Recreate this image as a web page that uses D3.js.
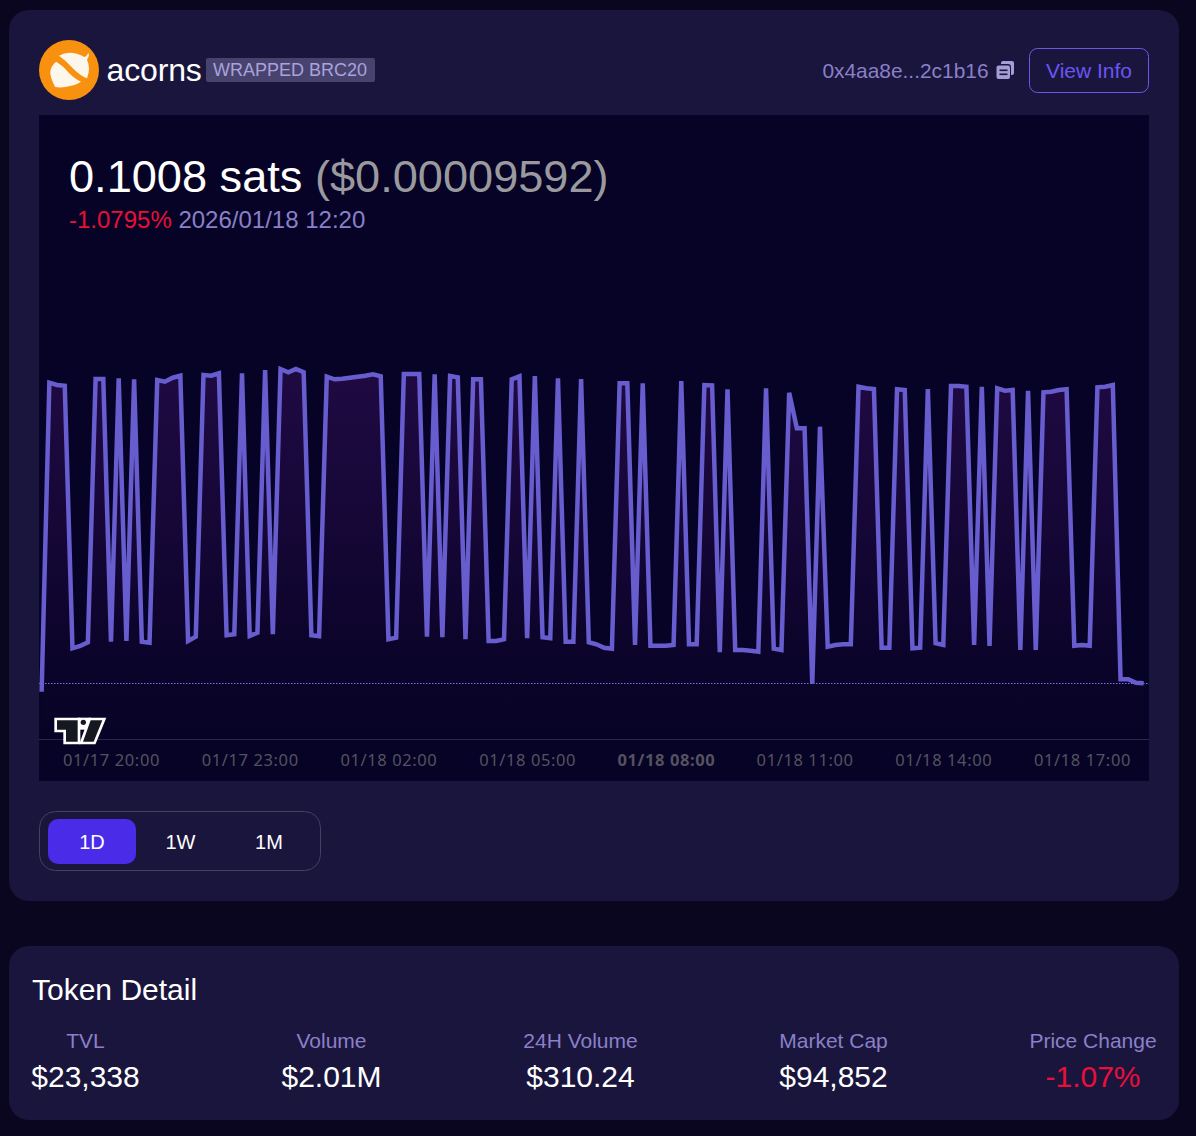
<!DOCTYPE html>
<html>
<head>
<meta charset="utf-8">
<script src="https://cdn.jsdelivr.net/npm/d3@7"></script>
<style>
html,body{margin:0;padding:0;background:#0a0620;overflow:hidden}
svg{display:block}
text{font-family:"Liberation Sans",Arial,sans-serif}
</style>
</head>
<body>
<svg id="c" width="1196" height="1136"></svg>
<script>
const prices = [
.09993,.13083,.13060,.13053,.10427,.10450,.10487,.13120,.13120,.10493,.13127,.10500,
.13117,.10493,.10483,.13110,.13093,.13133,.13153,.10500,.10543,.13160,.13153,.13177,
.10557,.10567,.13177,.10550,.10583,.13210,.10567,.13220,.13187,.13220,.13187,.10557,
.10547,.13143,.13117,.13123,.13133,.13143,.13153,.13167,.13147,.10517,.10533,.13170,
.13170,.13170,.10543,.13167,.10537,.13150,.13137,.10517,.13117,.13117,.10500,.10500,
.10517,.13117,.13147,.10527,.13150,.10537,.10527,.13127,.10493,.10493,.13120,.10487,
.10467,.10433,.10423,.13077,.13077,.10460,.13077,.10453,.10453,.10453,.10460,.13100,
.10467,.10467,.13060,.13057,.10387,.13017,.10410,.10410,.10403,.10393,.13027,.10423,
.10410,.12983,.12627,.12627,.10070,.12643,.10443,.10460,.10467,.10467,.13043,.13027,
.13020,.10433,.10433,.13017,.13010,.10427,.10433,.13020,.10477,.10460,.13050,.13050,
.13043,.10460,.13043,.10450,.13027,.13003,.13010,.10410,.13003,.10410,.12987,.12993,
.13010,.13017,.10453,.10460,.10453,.13037,.13043,.13060,.10117,.10117,.10083,.10077];
const startTime = Date.UTC(2026,0,17,18,30);
const stepMinutes = 10;
const currentPrice = 0.1008;
const tickHours = [20,23,26,29,32,35,38,41];
const rangeButtons = ["1D","1W","1M"];
const detailLabels = ["TVL","Volume","24H Volume","Market Cap","Price Change"];
const detailValues = ["$23,338","$2.01M","$310.24","$94,852","-1.07%"];

const svg = d3.select("#c");
const defs = svg.append("defs");
const grad = defs.append("linearGradient").attr("id","fill").attr("x1",0).attr("x2",0).attr("y1",0).attr("y2",1);
grad.append("stop").attr("offset",0).attr("stop-color","#1f0a42");
grad.append("stop").attr("offset",.4).attr("stop-color","#160737");
grad.append("stop").attr("offset",.75).attr("stop-color","#0c042b");
grad.append("stop").attr("offset",1).attr("stop-color","#070326");
defs.append("clipPath").attr("id","plot").append("rect").attr("x",39).attr("y",115).attr("width",1110).attr("height",624);

function txt(g,x,y,s,size,fill,anchor){
  return g.append("text").attr("x",x).attr("y",y).attr("font-size",size).attr("fill",fill)
    .attr("text-anchor",anchor||"start").text(s);
}
function card(x,y,w,h,r,fill,stroke){
  return svg.append("rect").attr("x",x).attr("y",y).attr("width",w).attr("height",h).attr("rx",r)
    .attr("fill",fill).attr("stroke",stroke||"none");
}

// cards
card(9,10,1170,891,20,"#1a153d");
card(9,946,1170,174,20,"#1a153d");
card(39,115,1110,666,0,"#070326");

// header
const head = svg.append("g");
head.append("circle").attr("cx",69).attr("cy",70).attr("r",30).attr("fill","#f8910f");
const acorn = head.append("g").attr("transform","translate(35,35) scale(0.3333)").attr("fill","#fdf6ea");
acorn.append("path").attr("d","M72,62 Q95,48 125,56 Q140,60 148,66 Q156,63 160,54 Q165,60 156,74 Q168,100 156,130 Q135,122 112,98 Q92,76 72,62 Z");
acorn.append("path").attr("d","M64,80 Q84,92 102,114 Q122,134 138,140 Q125,150 95,155 Q72,160 60,155 Q44,125 46,108 Q50,90 64,80 Z");
txt(head,106.5,80.5,"acorns",32,"#ffffff").attr("letter-spacing",-0.15);
head.append("rect").attr("x",206).attr("y",58).attr("width",169).attr("height",24).attr("rx",2).attr("fill","#48426f");
txt(head,213,76,"WRAPPED BRC20",18,"#a9a3dc");
txt(head,988.5,78,"0x4aa8e...2c1b16",20.9,"#8a80c8","end");
const copy = head.append("g").attr("fill","#a59dd3");
copy.append("path").attr("d","M1001,61 h11 a2,2 0 0 1 2,2 v10 a2,2 0 0 1 -2,2 h-1 v-8 a3,3 0 0 0 -3,-3 h-7 v-1 a2,2 0 0 1 2,-2 z");
copy.append("rect").attr("x",996.5).attr("y",65.5).attr("width",13.5).attr("height",13.5).attr("rx",2);
copy.append("rect").attr("x",999.5).attr("y",69.5).attr("width",8).attr("height",1.6).attr("fill","#1a153d");
copy.append("rect").attr("x",999.5).attr("y",73.5).attr("width",8).attr("height",1.6).attr("fill","#1a153d");
head.append("rect").attr("x",1029.5).attr("y",48.5).attr("width",119).attr("height",44).attr("rx",8)
  .attr("fill","none").attr("stroke","#6a58e8");
txt(head,1089,78,"View Info",21,"#6a55f2","middle");

// chart
const x = d3.scaleTime().domain([Date.UTC(2026,0,17,20),Date.UTC(2026,0,18,17)]).range([111,1082]);
const y = d3.scaleLinear().domain([0.10,0.14]).range([691,291]);
const data = prices.map((p,i)=>({t:startTime+i*stepMinutes*60000,p}));

const plot = svg.append("g").attr("clip-path","url(#plot)");
plot.append("path").datum(data).attr("fill","url(#fill)")
  .attr("d",d3.area().x(d=>x(d.t)).y0(739).y1(d=>y(d.p)));
plot.append("line").attr("x1",39).attr("x2",1149).attr("y1",y(currentPrice)+.5).attr("y2",y(currentPrice)+.5)
  .attr("stroke","#7d70ea").attr("stroke-dasharray","1.5 1.5");
plot.append("path").datum(data).attr("fill","none").attr("stroke","#675dce").attr("stroke-width",4.5)
  .attr("stroke-linejoin","miter").attr("stroke-miterlimit",2)
  .attr("d",d3.line().x(d=>x(d.t)).y(d=>y(d.p)));

// price text
const pt = svg.append("g");
const big = pt.append("text").attr("x",69).attr("y",192).attr("font-size",45.15);
big.append("tspan").attr("fill","#ffffff").text("0.1008 sats ");
big.append("tspan").attr("fill","#9a9a9e").text("($0.00009592)");
const sub = pt.append("text").attr("x",69).attr("y",228).attr("font-size",24);
sub.append("tspan").attr("fill","#e8103a").text("-1.0795%");
sub.append("tspan").attr("fill","#8a80c8").text(" 2026/01/18 12:20");

// time axis
const ticks = tickHours.map(h=>Date.UTC(2026,0,17,h));
const fmt = d3.utcFormat("%m/%d %H:%M");
const axis = d3.axisBottom(x).tickValues(ticks).tickSize(0).tickPadding(10).tickFormat(fmt);
const ag = svg.append("g").attr("transform","translate(0,739.5)").call(axis);
ag.select(".domain").remove();
svg.append("line").attr("x1",39).attr("x2",1149).attr("y1",739.5).attr("y2",739.5).attr("stroke","#2b2748");
ag.selectAll("text").attr("fill","#55525f").attr("font-size",16.5).attr("letter-spacing",0.6)
  .style("font-family",'"Noto Sans",sans-serif').attr("dy","1em")
  .attr("font-weight",d=>new Date(d).getUTCHours()===8?"700":"400");

// TradingView mark
const tvShapes = ["M36,31 H98 V95 H63 V59 H36 Z","M137,31 H172 L146,95 H114 Z"];
const tv = svg.append("g").attr("transform","translate(45,710) scale(0.3333)");
tv.selectAll("path.o").data(tvShapes).join("path").attr("class","o").attr("d",d=>d)
  .attr("fill","#fff").attr("stroke","#fff").attr("stroke-width",16).attr("stroke-linejoin","miter");
tv.append("rect").attr("x",98).attr("y",23).attr("width",40).attr("height",36).attr("fill","#fff");
tv.selectAll("path.f").data(tvShapes).join("path").attr("class","f").attr("d",d=>d).attr("fill","#15181f");
tv.append("circle").attr("cx",115).attr("cy",37).attr("r",8).attr("fill","#15181f");

// range buttons
card(39.5,811.5,281,59,16,"none","#45405f");
card(48,819,88,45,10,"#4a2be8");
const bx = d3.scalePoint().domain(rangeButtons).range([92,269]);
svg.append("g").selectAll("text").data(rangeButtons).join("text")
  .attr("x",d=>bx(d)).attr("y",849).attr("text-anchor","middle").attr("font-size",20).attr("fill","#fff").text(d=>d);

// token detail
const detail = svg.append("g");
txt(detail,32,1000,"Token Detail",30,"#ffffff");
const cols = [85.5,331.5,580.5,833.5,1093];
detailLabels.forEach((l,i)=>{
  txt(detail,cols[i],1048,l,21,"#8a80c8","middle");
  txt(detail,cols[i],1087,detailValues[i],30,i===4?"#e8103a":"#ffffff","middle");
});
</script>
</body>
</html>
